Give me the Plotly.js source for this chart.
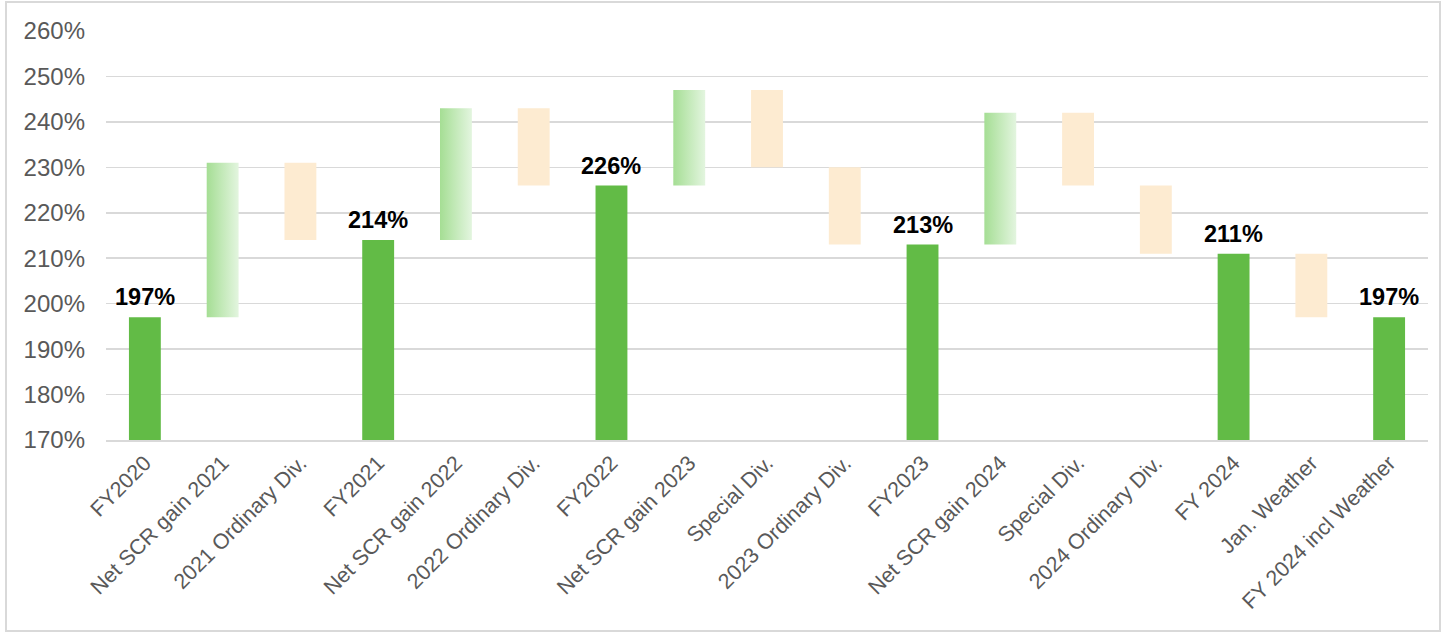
<!DOCTYPE html>
<html>
<head>
<meta charset="utf-8">
<script src="https://cdn.plot.ly/plotly-3.0.1.min.js"></script>
<style>
html,body{margin:0;padding:0;background:#fff;}
#wrap{position:relative;width:1444px;height:632px;}
#chart{position:absolute;left:0;top:0;width:1444px;height:632px;}
#frame{position:absolute;left:5px;top:1px;width:1432px;height:627px;border:2px solid #d9d9d9;pointer-events:none;}
</style>
</head>
<body>
<div id="wrap"><div id="chart"></div><div id="frame"></div></div>
<script>
// Categories along the x axis
const categories = ["FY2020","Net SCR gain 2021","2021 Ordinary Div.","FY2021","Net SCR gain 2022","2022 Ordinary Div.","FY2022","Net SCR gain 2023","Special Div.","2023 Ordinary Div.","FY2023","Net SCR gain 2024","Special Div.","2024 Ordinary Div.","FY 2024","Jan. Weather","FY 2024 incl Weather"];
// Kind of each step: total, gain, div
const kinds = ["total","gain","div","total","gain","div","total","gain","div","div","total","gain","div","div","total","div","total"];
// Lower and upper ends of each bar (Solvency ratio, %)
const lowValues  = [170,197,214,170,214,226,170,226,230,213,170,213,226,211,170,197,170];
const highValues = [197,231,231,214,243,243,226,247,247,230,213,242,242,226,211,211,197];
const yTicks = [170,180,190,200,210,220,230,240,250,260];

const barWidth = 0.41;
const solidGreen = "#62BB46";
const divColor = "#FDEBD1";
const gradStart = "#A5DE94";
const gradEnd = "#E3F5DF";
const FONT = "Liberation Sans, Arial, sans-serif";

const idx = categories.map((_, i) => i);
const traces = [];

// totals
const totIdx = idx.filter(i => kinds[i] === "total");
traces.push({
  type: "bar",
  x: totIdx,
  y: totIdx.map(i => highValues[i]),
  width: barWidth,
  marker: {color: solidGreen},
  hoverinfo: "skip",
  showlegend: false
});
// dividends / weather (floating)
const divIdx = idx.filter(i => kinds[i] === "div");
traces.push({
  type: "bar",
  x: divIdx,
  base: divIdx.map(i => lowValues[i]),
  y: divIdx.map(i => highValues[i] - lowValues[i]),
  width: barWidth,
  marker: {color: divColor},
  hoverinfo: "skip",
  showlegend: false
});
// gains (gradient floating rectangles)
idx.filter(i => kinds[i] === "gain").forEach(i => {
  const l = i - barWidth / 2, r = i + barWidth / 2;
  traces.push({
    type: "scatter",
    x: [l, r, r, l, l],
    y: [lowValues[i], lowValues[i], highValues[i], highValues[i], lowValues[i]],
    mode: "lines",
    line: {width: 0, color: "rgba(0,0,0,0)"},
    fill: "toself",
    fillcolor: "#C5EBBB",
    fillgradient: {type: "horizontal", colorscale: [[0, gradStart], [1, gradEnd]]},
    hoverinfo: "skip",
    showlegend: false
  });
});

const annotations = totIdx.map(i => ({
  x: i, y: highValues[i], xref: "x", yref: "y",
  text: "<b>" + highValues[i] + "%</b>",
  showarrow: false, yanchor: "bottom", yshift: 5,
  font: {family: FONT, size: 23.5, color: "#000"}
}));

const layout = {
  width: 1444, height: 632,
  margin: {l: 106, r: 16, t: 31, b: 192},
  paper_bgcolor: "rgba(0,0,0,0)", plot_bgcolor: "#fff",
  barmode: "overlay",
  xaxis: {
    type: "linear", range: [-0.5, categories.length - 0.5],
    tickmode: "array", tickvals: idx, ticktext: categories,
    tickangle: -45, showgrid: false, zeroline: false, ticks: "",
    showline: true, linecolor: "#d9d9d9", linewidth: 2,
    tickfont: {family: FONT, size: 21.5, color: "#595959"}
  },
  yaxis: {
    range: [170, 260], tickmode: "array", tickvals: yTicks,
    ticktext: yTicks.map(v => v + "%"),
    showgrid: true, gridcolor: "#d9d9d9", gridwidth: 1.5, zeroline: false,
    ticks: "", ticklabelstandoff: 20,
    tickfont: {family: FONT, size: 24, color: "#595959"}
  },
  annotations: annotations,
  font: {family: FONT}
};

Plotly.newPlot("chart", traces, layout, {displayModeBar: false, staticPlot: true});
</script>
</body>
</html>
